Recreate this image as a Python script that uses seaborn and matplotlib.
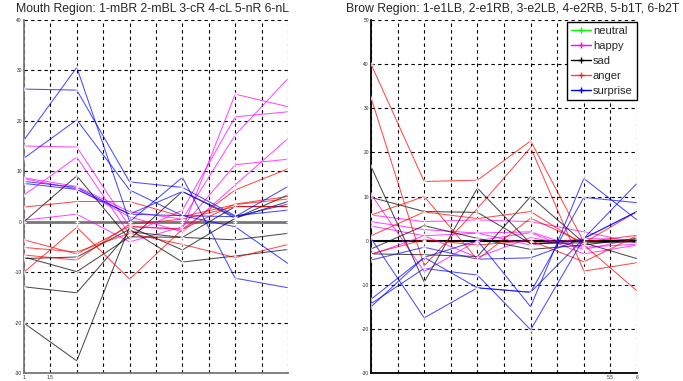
import numpy as np
import pandas as pd
import matplotlib
matplotlib.use("Agg")
import matplotlib.pyplot as plt
import seaborn as sns
from matplotlib.lines import Line2D

sns.set_style("white")
plt.rcParams['font.family'] = ['Liberation Sans', 'DejaVu Sans']

positions = [1, 2, 3, 4, 5, 6]
emotions = ["neutral", "happy", "sad", "anger", "surprise"]
colors = {"neutral": "#00ff00", "happy": "#ff00ff", "sad": "#000000",
          "anger": "#ff0000", "surprise": "#0000ff"}

mouth_title = "Mouth Region: 1-mBR 2-mBL 3-cR 4-cL 5-nR 6-nL"
brow_title = "Brow Region: 1-e1LB, 2-e1RB, 3-e2LB, 4-e2RB, 5-b1T, 6-b2T"

mouth_neutral = [[0, 0, 0, 0, 0, 0]]
mouth_happy = [
    [15.0, 14.8, -1.0, -1.5, 25.3, 22.8],
    [5.3, 12.8, -2.5, 2.3, 20.8, 21.8],
    [8.7, 7.0, 2.0, 0.5, 17.2, 28.4],
    [0.3, 1.5, -4.0, -1.0, 11.3, 12.4],
    [8.5, 6.5, 1.0, -2.0, 7.3, 16.5]]
mouth_sad = [
    [0.0, 9.1, -3.5, 6.0, 0.7, 5.3],
    [-7.3, -7.0, -1.5, -8.0, -6.8, -5.5],
    [-12.9, -14.1, -2.0, -3.1, -3.6, -2.3],
    [-20.1, -27.6, -1.0, -5.6, 0.7, 4.0],
    [-7.0, -9.9, -3.0, -3.1, 3.0, 3.0],
    [0, 0, 0, 0, 0, 0]]
mouth_anger = [
    [2.9, 4.0, 4.0, 1.0, 3.4, 4.5],
    [-3.6, -6.4, -0.9, -1.5, 6.3, 10.5],
    [-5.1, -6.0, -2.3, -4.5, -7.1, -4.5],
    [-10.0, -1.1, -11.4, -1.5, 3.5, 5.0],
    [-6.6, -7.6, -0.5, 0.5, 3.0, 3.0]]
mouth_surprise = [
    [26.3, 26.1, 7.9, 6.8, 1.2, 2.3],
    [16.2, 30.6, 0.0, 8.8, -11.2, -13.1],
    [12.6, 20.2, 6.3, 1.2, -1.0, -8.3],
    [8.0, 6.8, 1.5, 1.2, 1.0, 3.5],
    [7.6, 6.4, 1.5, 6.0, 1.0, 7.0]]

brow_neutral = [[0, 0, 0, 0, 0, 0]]
brow_happy = [
    [10.5, -7.0, 0.0, 1.8, -3.0, -1.0],
    [5.8, 4.3, 4.7, 4.3, 2.0, -0.5],
    [4.3, 2.5, 1.7, 2.0, -2.0, 0.5],
    [3.3, 1.1, -3.8, 0.7, -1.5, -0.8],
    [-3.2, 1.1, 1.7, -1.0, 0.5, 0.2]]
brow_sad = [
    [16.8, -9.4, 11.9, -0.7, 0.0, 0.0],
    [9.8, 6.6, 6.4, -0.7, -0.5, -0.3],
    [-3.0, -3.2, -3.6, 10.0, -0.5, -4.1],
    [-1.9, 3.4, 0.5, -2.0, -1.0, 0.5],
    [0, 0, 0, 0, 0, 0]]
brow_anger = [
    [40.0, 13.4, 13.7, 22.6, -0.3, 1.2],
    [32.4, -5.7, 7.3, 21.1, -6.9, -5.0],
    [5.8, 10.0, -4.3, 5.1, -0.5, 6.6],
    [1.1, 6.5, 5.0, 6.6, -1.0, -11.4],
    [-3.0, 0.2, -1.0, 0.0, -4.8, 1.1]]
brow_surprise = [
    [0.5, -17.5, -10.7, -11.7, 9.8, 8.6],
    [-4.4, -1.5, -4.2, -3.9, 0.5, 6.6],
    [-13.3, -3.8, 0.0, -15.0, 14.1, 4.7],
    [-14.3, -6.3, -7.8, -20.2, 0.5, 13.0],
    [-15.0, -3.8, -10.7, -11.7, 0.5, 6.6]]

mouth_yticks = [-30, -20, -10, 0, 10, 20, 30, 40]
brow_yticks = [-30, -20, -10, 0, 10, 20, 30, 40, 50]
mouth_xlabels = {1.0: "1", 1.5: "1.5"}
brow_xlabels = {5.5: "5.5", 6.0: "6"}


def to_long(groups):
    rows = []
    for emo, series in groups.items():
        for i, vals in enumerate(series):
            for p, v in zip(positions, vals):
                rows.append({"emotion": emo, "subject": f"{emo}{i}", "pos": p, "val": v})
    return pd.DataFrame(rows)


mouth_df = to_long({"neutral": mouth_neutral, "happy": mouth_happy, "sad": mouth_sad,
                    "anger": mouth_anger, "surprise": mouth_surprise})
brow_df = to_long({"neutral": brow_neutral, "happy": brow_happy, "sad": brow_sad,
                   "anger": brow_anger, "surprise": brow_surprise})

fig = plt.figure(figsize=(6.83, 3.81), dpi=100)
ax1 = fig.add_axes([0.0351, 0.021, 0.3866, 0.9265])
ax2 = fig.add_axes([0.5432, 0.021, 0.3895, 0.9265])


def draw(ax, df, ylim, yticks, xlabels, spine_color, zero_color, zero_lw):
    neu = df[df.emotion == "neutral"]
    sns.lineplot(data=neu, x="pos", y="val", hue="emotion", units="subject",
                 estimator=None, palette=colors, ax=ax, marker="+", markersize=4,
                 markeredgewidth=1.0, linewidth=0.6, legend=False, sort=False, zorder=2)
    n_before = len(ax.get_lines())
    others = df[df.emotion != "neutral"]
    sns.lineplot(data=others, x="pos", y="val", hue="emotion", units="subject",
                 estimator=None, palette=colors, hue_order=emotions[1:], ax=ax,
                 marker="+", markersize=3.5, markeredgewidth=0.9, linewidth=0.75,
                 alpha=0.7, legend=False, sort=False, zorder=3)
    for line in ax.get_lines()[n_before:]:
        yd = np.asarray(line.get_ydata(), dtype=float)
        if len(yd) and np.allclose(yd, 0):
            line.set_linewidth(zero_lw)
            line.set_color(zero_color)
            line.set_alpha(1.0)
            line.set_zorder(2.5)
    ax.set_xlim(1, 6)
    ax.set_ylim(*ylim)
    xt = np.arange(1, 6.01, 0.5)
    ax.set_xticks(xt)
    ax.set_xticklabels([xlabels.get(float(t), "") for t in xt])
    ax.set_yticks(yticks)
    ax.set_yticklabels([str(t) for t in yticks])
    ax.tick_params(axis="both", labelsize=3.5, length=0, pad=1.5)
    ax.grid(True, color="black", linestyle=(0, (3, 3)), linewidth=0.8)
    ax.set_axisbelow(True)
    ax.set_xlabel("")
    ax.set_ylabel("")
    for side in ["top", "right"]:
        ax.spines[side].set_visible(False)
    for side in ["left", "bottom"]:
        ax.spines[side].set_color(spine_color)
        ax.spines[side].set_linewidth(1.3)


draw(ax1, mouth_df, (-30, 40), mouth_yticks, mouth_xlabels, "#777777", "#777777", 2.0)
draw(ax2, brow_df, (-30, 50), brow_yticks, brow_xlabels, "black", "black", 1.5)

fig.text(0.2226, 0.976, mouth_title, ha="center", va="center", fontsize=8.8)
fig.text(0.751, 0.976, brow_title, ha="center", va="center", fontsize=8.8)

handles = [Line2D([0], [0], color=colors[e], marker="+", markersize=4,
                  markeredgewidth=1, linewidth=1, alpha=1 if e != "anger" else 0.75)
           for e in emotions]
leg = ax2.legend(handles, emotions, loc="upper right", fontsize=8.0, frameon=True,
                 fancybox=False, edgecolor="black", framealpha=1, handlelength=1.8,
                 handletextpad=0.2, labelspacing=0.45, borderpad=0.35,
                 borderaxespad=0.0, bbox_to_anchor=(0.998, 0.993))
leg.get_frame().set_linewidth(1.0)

fig.savefig("out.png", dpi=100)
